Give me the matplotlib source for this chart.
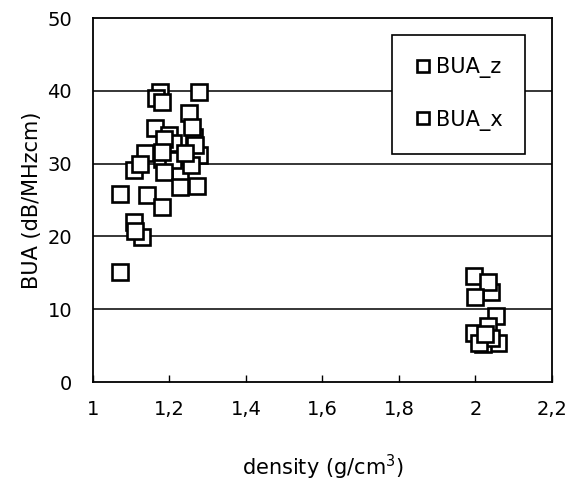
import matplotlib.pyplot as plt
import numpy as np

plt.rcParams['font.family'] = ['DejaVu Sans']

# ==============================================================
# 데이터
density_z = [1.176, 1.276, 1.163, 1.20, 1.263, 1.276, 1.18, 1.106, 1.228,
             1.255, 1.272, 1.141, 1.106, 1.128, 1.071, 1.21, 1.25, 1.185,
             1.995, 2.040, 2.055, 1.995, 2.060, 2.020]
bua_z = [39.9, 39.9, 34.9, 33.9, 33.7, 31.2, 30.7, 29.1, 28.9,
         29.8, 27.0, 25.7, 22.0, 19.9, 15.1, 32.8, 36.9, 33.4,
         14.5, 12.3, 9.1, 6.8, 5.4, 5.2]

density_x = [1.165, 1.18, 1.259, 1.268, 1.136, 1.21, 1.123, 1.185, 1.228,
             1.071, 1.18, 1.11, 1.18, 1.24,
             2.032, 1.998, 2.033, 2.040, 2.010, 2.025]
bua_x = [39.0, 38.5, 35.1, 32.6, 31.4, 30.5, 30.0, 28.9, 26.8,
         25.9, 24.1, 20.8, 31.6, 31.5,
         13.7, 11.7, 7.7, 6.1, 5.4, 6.6]

x_ticks = [1.0, 1.2, 1.4, 1.6, 1.8, 2.0, 2.2]
x_tick_labels = ['1', '1,2', '1,4', '1,6', '1,8', '2', '2,2']
y_ticks = [0, 10, 20, 30, 40, 50]

# Figure와 Axes 생성
fig = plt.figure(figsize=(5.69, 4.90), dpi=100)
ax = fig.add_axes([0.1634, 0.2204, 0.8066, 0.7426])

# 그리드 (가로선)
for yv in y_ticks[1:-1]:
    ax.axhline(yv, color='black', linewidth=1.1, zorder=1)

marker_style = dict(linestyle='none', marker='s', markersize=11.5,
                    markerfacecolor='white', markeredgecolor='black',
                    markeredgewidth=1.9, zorder=3)
ax.plot(density_z, bua_z, label='BUA_z', **marker_style)
ax.plot(density_x, bua_x, label='BUA_x', **marker_style)

ax.set_xlim(1.0, 2.2)
ax.set_ylim(0, 50)
ax.set_xticks(x_ticks)
ax.set_xticklabels(x_tick_labels)
ax.set_yticks(y_ticks)

for sp in ax.spines.values():
    sp.set_linewidth(1.3)

ax.tick_params(axis='x', direction='in', length=5, width=1, pad=13,
               labelsize=14)
ax.tick_params(axis='y', length=0, pad=15, labelsize=14)

ax.set_xlabel('density (g/cm$^3$)', fontsize=15, labelpad=24)
ax.set_ylabel('BUA (dB/MHzcm)', fontsize=15, labelpad=4)

leg = ax.legend(loc='upper left', bbox_to_anchor=(0.651, 0.955),
                frameon=True, fancybox=False, fontsize=15,
                markerscale=0.75, handlelength=0.8, handletextpad=0.2,
                labelspacing=1.5, borderpad=1.1, borderaxespad=0)
leg.get_frame().set_edgecolor('black')
leg.get_frame().set_linewidth(1.2)
leg.get_frame().set_alpha(1)

fig.savefig('out.png', dpi=100)
